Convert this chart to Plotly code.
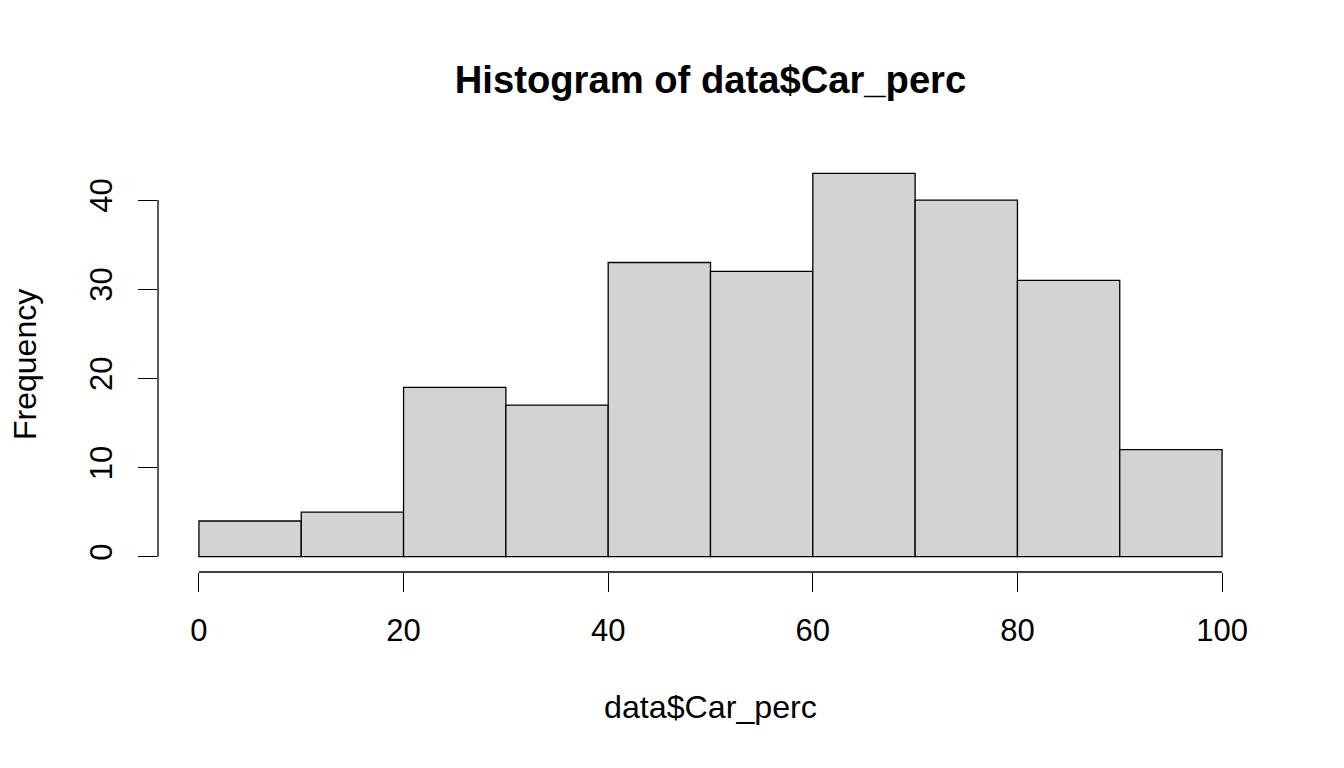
import plotly.graph_objects as go

breaks = [0, 10, 20, 30, 40, 50, 60, 70, 80, 90, 100]
counts = [4, 5, 19, 17, 33, 32, 43, 40, 31, 12]
x_ticks = [0, 20, 40, 60, 80, 100]
y_ticks = [0, 10, 20, 30, 40]

mids = [(breaks[i] + breaks[i + 1]) / 2 for i in range(len(counts))]
widths = [breaks[i + 1] - breaks[i] for i in range(len(counts))]

FONT = "Liberation Sans, Arial, Helvetica, sans-serif"

fig = go.Figure()
fig.add_trace(go.Bar(
    x=mids, y=counts, width=widths,
    marker=dict(color="#D3D3D3", line=dict(color="black", width=1.3)),
    hoverinfo="x+y",
))

xr = [breaks[0] - 0.04 * (breaks[-1] - breaks[0]), breaks[-1] + 0.04 * (breaks[-1] - breaks[0])]
ymax = max(counts)
yr = [-0.04 * ymax, ymax * 1.04]

# page has an 8px body margin
W, H = 1336, 760

fig.update_layout(
    width=W, height=H,
    margin=dict(l=150, r=81, t=150, b=196),
    paper_bgcolor="white", plot_bgcolor="white",
    showlegend=False,
    font=dict(family=FONT, color="black", size=31),
    title=dict(text="<b>Histogram of data$Car_perc</b>", x=0.5, xref="paper",
               y=1 - 72 / H, yanchor="middle", xanchor="center",
               font=dict(family=FONT, size=38.2, color="black")),
    xaxis=dict(range=xr, tickmode="array", tickvals=x_ticks,
               ticktext=[str(v) for v in x_ticks],
               ticks="outside", ticklen=19, tickwidth=1.3, tickcolor="black",
               ticklabelstandoff=12,
               showline=False, showgrid=False, zeroline=False,
               tickfont=dict(size=31, color="black", family=FONT)),
    yaxis=dict(range=yr, tickmode="array", tickvals=y_ticks,
               ticktext=[str(v) for v in y_ticks],
               ticks="outside", ticklen=19, tickwidth=1.3, tickcolor="black",
               tickangle=-90, ticklabelstandoff=14,
               showline=False, showgrid=False, zeroline=False,
               tickfont=dict(size=31, color="black", family=FONT)),
    shapes=[
        dict(type="line", xref="x", yref="paper", x0=x_ticks[0], x1=x_ticks[-1], y0=0, y1=0,
             line=dict(color="black", width=1.3)),
        dict(type="line", xref="paper", yref="y", x0=0, x1=0, y0=y_ticks[0], y1=y_ticks[-1],
             line=dict(color="black", width=1.3)),
    ],
    annotations=[
        dict(text="data$Car_perc", xref="paper", yref="paper", x=0.5, y=(572 - 707) / 414,
             xanchor="center", yanchor="middle", showarrow=False,
             font=dict(family=FONT, size=32.2, color="black")),
        dict(text="Frequency", xref="paper", yref="paper", x=(25 - 158) / 1105, y=0.5,
             xanchor="center", yanchor="middle", showarrow=False, textangle=-90,
             font=dict(family=FONT, size=32, color="black")),
    ],
)

fig.write_html("out.html")
